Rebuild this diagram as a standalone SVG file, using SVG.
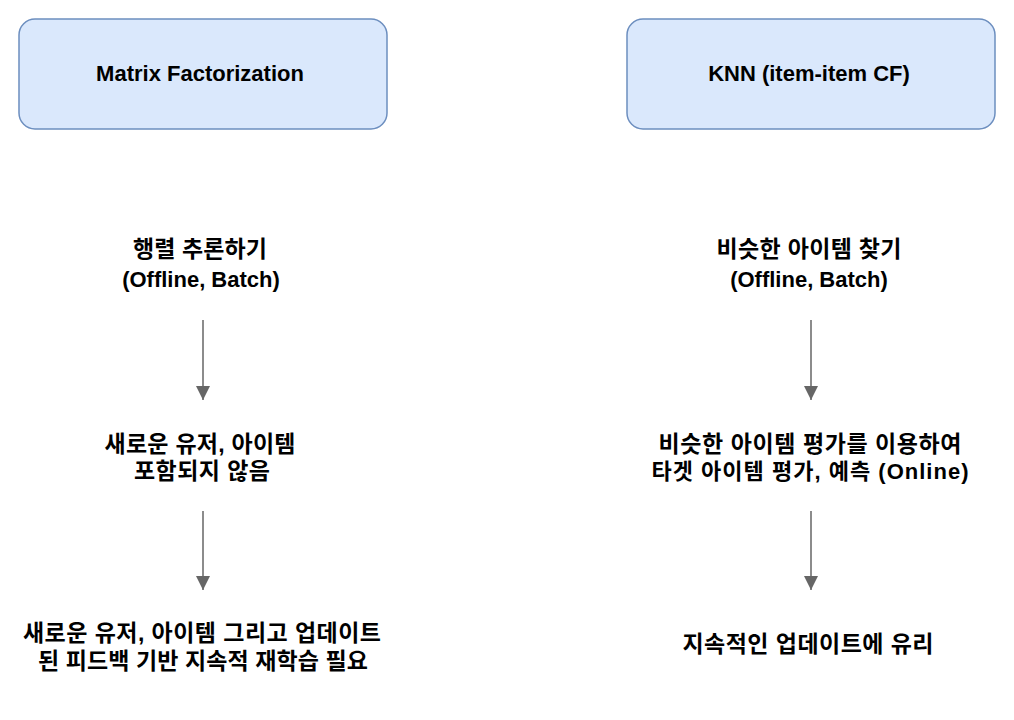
<svg xmlns="http://www.w3.org/2000/svg" width="1014" height="720" viewBox="0 0 1014 720">
<style>
.box{fill:#dae8fc;stroke:#6c8ebf;stroke-width:1.5}
.t{font-family:"Liberation Sans","Noto Sans CJK KR",Arial,sans-serif;font-weight:bold;font-size:22px;fill:#000;text-anchor:middle}
.k{font-size:23px}
.edge{stroke:#666;stroke-width:1.5;fill:none}
</style>
<defs>
<marker id="ah" markerWidth="16" markerHeight="14" refX="14" refY="7" orient="auto" markerUnits="userSpaceOnUse">
<path d="M0,0 L14,7 L0,14 Z" fill="#666"/>
</marker>
</defs>
<rect width="1014" height="720" fill="#fff"/>
<g id="mf">
<rect class="box" x="19" y="19" width="368" height="110" rx="16"/>
<text class="t" x="200" y="81">Matrix Factorization</text>
</g>
<g id="knn">
<rect class="box" x="627" y="19" width="368" height="110" rx="16"/>
<text class="t" x="809" y="81">KNN (item-item CF)</text>
</g>
<g id="mf1">
<text class="t k" x="200" y="257" textLength="134" lengthAdjust="spacing">행렬 추론하기</text>
<text class="t" x="201" y="287">(Offline, Batch)</text>
</g>
<g id="mf2">
<text class="t k" x="200" y="452" textLength="191" lengthAdjust="spacing">새로운 유저, 아이템</text>
<text class="t k" x="202" y="479" textLength="136" lengthAdjust="spacing">포함되지 않음</text>
</g>
<g id="mf3">
<text class="t k" x="202" y="641" textLength="358" lengthAdjust="spacing">새로운 유저, 아이템 그리고 업데이트</text>
<text class="t k" x="203" y="669" textLength="330" lengthAdjust="spacing">된 피드백 기반 지속적 재학습 필요</text>
</g>
<g id="knn1">
<text class="t k" x="809" y="257" textLength="185" lengthAdjust="spacing">비슷한 아이템 찾기</text>
<text class="t" x="809" y="287">(Offline, Batch)</text>
</g>
<g id="knn2">
<text class="t k" x="810" y="452" textLength="303" lengthAdjust="spacing">비슷한 아이템 평가를 이용하여</text>
<text class="t" x="810" y="479" textLength="317" lengthAdjust="spacing">타겟 아이템 평가,  예측 (Online)</text>
</g>
<g id="knn3">
<text class="t k" x="808" y="652" textLength="251" lengthAdjust="spacing">지속적인 업데이트에 유리</text>
</g>
<g id="connectors">
<line class="edge" x1="203" y1="320" x2="203" y2="400" marker-end="url(#ah)"/>
<line class="edge" x1="203" y1="511" x2="203" y2="590" marker-end="url(#ah)"/>
<line class="edge" x1="811" y1="320" x2="811" y2="400" marker-end="url(#ah)"/>
<line class="edge" x1="811" y1="511" x2="811" y2="590" marker-end="url(#ah)"/>
</g>
</svg>
